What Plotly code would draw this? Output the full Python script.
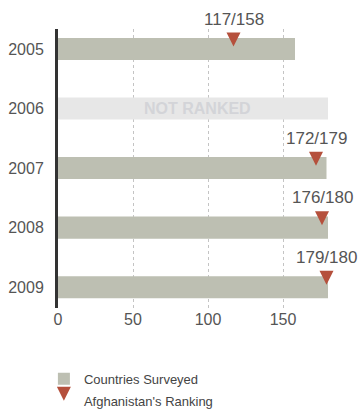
import plotly.graph_objects as go

years = ["2005", "2006", "2007", "2008", "2009"]
surveyed = [158, None, 179, 180, 180]
ranking = [117, None, 172, 176, 179]
not_ranked_year = "2006"
not_ranked_total = 180
x_ticks = [0, 50, 100, 150]

idx = list(range(len(years)))
ranked_idx = [i for i in idx if ranking[i] is not None]

BAR = "#bdbfb2"
RED = "#b5503c"
TXT = "#555555"
FONT = "Liberation Sans, Arial, sans-serif"

fig = go.Figure()

fig.add_trace(go.Bar(
    y=[years.index(not_ranked_year)], x=[not_ranked_total], orientation="h",
    marker=dict(color="#e7e7e7", line=dict(width=0)), width=0.37,
    showlegend=False, hoverinfo="skip"))

fig.add_trace(go.Bar(
    y=ranked_idx, x=[surveyed[i] for i in ranked_idx], orientation="h",
    marker=dict(color=BAR, line=dict(width=0)), width=0.37,
    name="Countries Surveyed", legendgroup="a"))

fig.add_trace(go.Scatter(
    y=[i - 0.04 for i in ranked_idx], x=[ranking[i] for i in ranked_idx],
    mode="markers", marker=dict(symbol="arrow-down", size=14, color=RED, line=dict(width=0)),
    name="Afghanistan's Ranking", legendgroup="b"))

for i in ranked_idx:
    fig.add_annotation(x=ranking[i], y=i, text=f"{ranking[i]}/{surveyed[i]}",
                       showarrow=False, yshift=30, xanchor="center", yanchor="middle",
                       font=dict(family=FONT, size=17, color=TXT))

fig.add_annotation(x=not_ranked_total / 2 + 3, y=years.index(not_ranked_year), text="<b>NOT RANKED</b>",
                   showarrow=False, font=dict(family="Liberation Sans Narrow, Liberation Sans, sans-serif",
                                              size=16, color="#d3d4d8"))

fig.update_layout(
    width=359, height=412,
    margin=dict(l=58, r=19, t=29, b=104, autoexpand=False),
    paper_bgcolor="white", plot_bgcolor="white",
    barmode="overlay",
    font=dict(family=FONT, color=TXT, size=15),
    legend=dict(x=-0.05, xanchor="left", y=-0.2, yanchor="top",
                font=dict(size=13, color="#444"), tracegroupgap=2, itemwidth=30),
    xaxis=dict(range=[0, 188], tickvals=x_ticks, showgrid=True, gridcolor="#c4c4c4",
               griddash="dot", gridwidth=1, zeroline=False, showline=False, ticks="",
               tickfont=dict(size=16, color=TXT)),
    yaxis=dict(range=[4.35, -0.336], tickvals=idx, ticktext=years, showgrid=False,
               zeroline=False, showline=True, linecolor="#333", linewidth=3, ticks="",
               ticklabelstandoff=8, tickfont=dict(size=16, color=TXT)),
)

fig.write_html("out.html", config={"displayModeBar": False},
               post_script="document.body.style.margin='0';")
